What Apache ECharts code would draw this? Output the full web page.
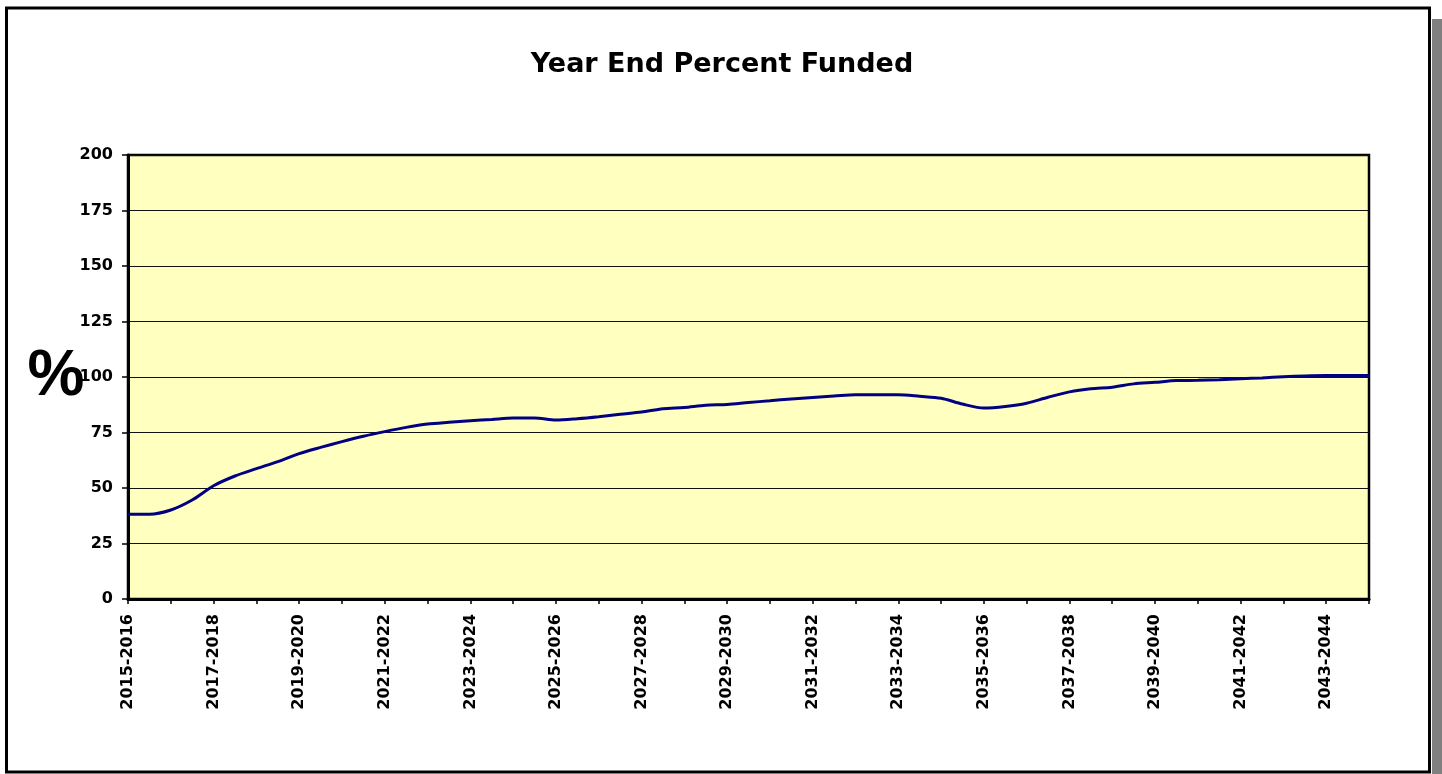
<!DOCTYPE html>
<html>
<head>
<meta charset="utf-8">
<title>Year End Percent Funded</title>
<script src="https://cdn.jsdelivr.net/npm/echarts@6/dist/echarts.min.js"></script>
<style>
  html, body { margin: 0; padding: 0; background: #ffffff; }
  #chart { width: 1442px; height: 774px; }
</style>
</head>
<body>
<div id="chart"></div>
<script>
// Fiscal years along the horizontal axis (one tick per year, every other one labelled)
const fiscalYears = [
  '2015-2016', '2016-2017', '2017-2018', '2018-2019', '2019-2020',
  '2020-2021', '2021-2022', '2022-2023', '2023-2024', '2024-2025',
  '2025-2026', '2026-2027', '2027-2028', '2028-2029', '2029-2030',
  '2030-2031', '2031-2032', '2032-2033', '2033-2034', '2034-2035',
  '2035-2036', '2036-2037', '2037-2038', '2038-2039', '2039-2040',
  '2040-2041', '2041-2042', '2042-2043', '2043-2044', '2044-2045'
];

// Percent funded, sampled every half year starting at 2015-2016
const percentFunded = [
  38.2, 38.2, 40.1, 44.6, 51.0, 55.4, 58.7, 61.9, 65.5, 68.3,
  70.9, 73.3, 75.4, 77.3, 78.8, 79.6, 80.3, 80.9, 81.5, 81.5,
  80.6, 81.2, 82.1, 83.2, 84.2, 85.7, 86.3, 87.3, 87.6, 88.5,
  89.3, 90.1, 90.8, 91.4, 92.0, 92.0, 92.0, 91.3, 90.4, 87.8,
  86.0, 86.7, 88.2, 90.9, 93.3, 94.7, 95.4, 96.9, 97.6, 98.4,
  98.5, 98.8, 99.2, 99.6, 100.1, 100.5, 100.7, 100.7, 100.7
];

// Vertical axis scale
const yMin = 0;
const yMax = 200;
const yStep = 25;

const samplesPerYear = 2;
const seriesData = percentFunded.map((v, i) => [i / samplesPerYear, v]);

const FONT = 'DejaVu Sans';

const chart = echarts.init(document.getElementById('chart'), null, { renderer: 'canvas' });

chart.setOption({
  backgroundColor: '#ffffff',
  animation: false,
  title: {
    text: 'Year End Percent Funded',
    left: 717,
    top: 46,
    textAlign: 'center',
    textStyle: { fontFamily: FONT, fontWeight: 'bold', fontSize: 27, color: '#000' }
  },
  grid: {
    left: 128,
    right: 73,
    top: 155,
    bottom: 175,
    show: true,
    backgroundColor: '#FFFFC0',
    borderColor: '#000',
    borderWidth: 2.5
  },
  xAxis: {
    type: 'value',
    min: 0,
    max: fiscalYears.length - 1,
    interval: 1,
    axisLine: { show: true, onZero: false, lineStyle: { color: '#000', width: 3 } },
    axisTick: { show: true, length: 5, lineStyle: { color: '#000', width: 1.5 } },
    splitLine: { show: false },
    axisLabel: {
      rotate: 90,
      margin: 15,
      fontFamily: FONT,
      fontWeight: 'bold',
      fontSize: 16,
      color: '#000',
      showMinLabel: true,
      showMaxLabel: true,
      formatter: (v) => (v % 2 === 0 ? fiscalYears[v] : '')
    }
  },
  yAxis: {
    type: 'value',
    min: yMin,
    max: yMax,
    interval: yStep,
    name: '%',
    nameLocation: 'middle',
    nameRotate: 0,
    nameGap: 72,
    nameMoveOverlap: false,
    nameTextStyle: {
      fontFamily: 'Liberation Sans',
      fontWeight: 'bold',
      fontSize: 64,
      lineHeight: 64,
      color: '#000',
      align: 'center',
      verticalAlign: 'middle',
      padding: [18, 0, 0, 0]
    },
    axisLine: { show: true, lineStyle: { color: '#000', width: 3 } },
    axisTick: { show: true, length: 6, lineStyle: { color: '#000', width: 1.5 } },
    splitLine: { show: true, lineStyle: { color: '#111', width: 1.2 } },
    axisLabel: {
      margin: 15,
      fontFamily: FONT,
      fontWeight: 'bold',
      fontSize: 16,
      color: '#000'
    }
  },
  series: [{
    type: 'line',
    data: seriesData,
    smooth: 0.3,
    showSymbol: false,
    lineStyle: { color: '#000080', width: 3 },
    z: 5
  }],
  graphic: [
    {
      type: 'rect',
      shape: { x: 1432, y: 19, width: 12, height: 760 },
      style: { fill: '#808080' },
      silent: true,
      z: 1
    },
    {
      type: 'rect',
      shape: { x: 6.5, y: 8, width: 1423, height: 764 },
      style: { fill: null, stroke: '#000', lineWidth: 3 },
      silent: true,
      z: 2
    }
  ]
});
</script>
</body>
</html>
